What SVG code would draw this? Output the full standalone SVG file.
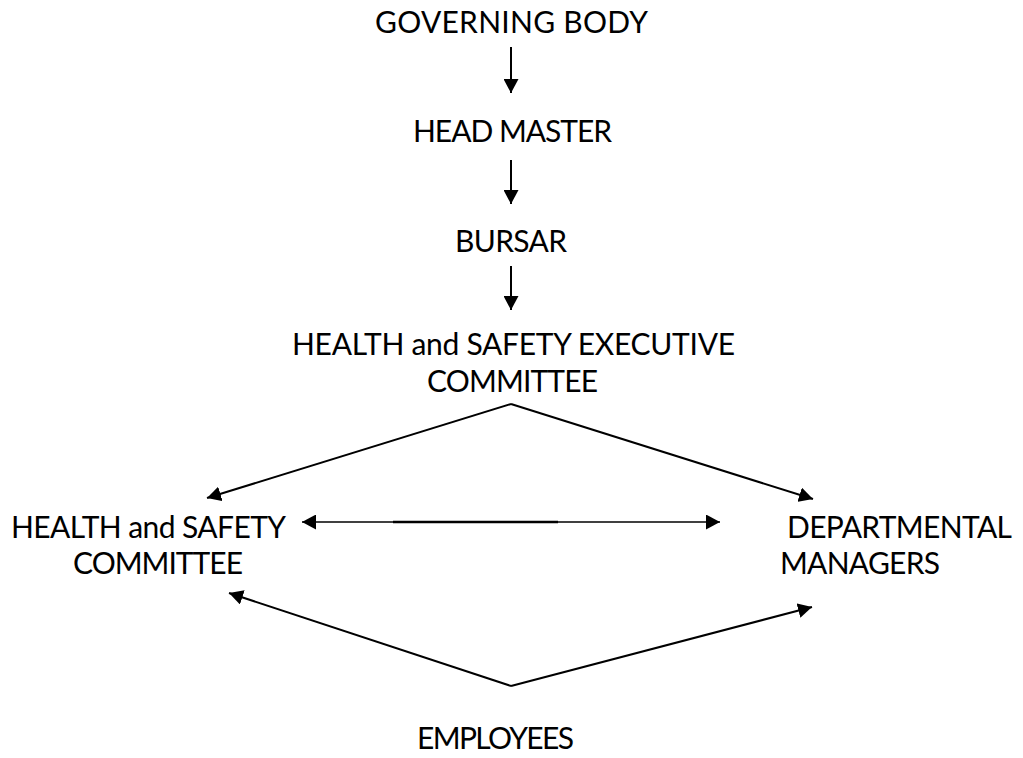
<svg xmlns="http://www.w3.org/2000/svg" width="1023" height="758" viewBox="0 0 1023 758">
  <style>
    .lbl { font-family: "Lato", "Open Sans", "Liberation Sans", sans-serif; font-size: 30px; fill: #000; }
    .conn { stroke: #000; stroke-width: 2; fill: none; marker-end: url(#head); }
  </style>
  <defs>
    <marker id="head" viewBox="0 0 14 15" refX="14" refY="7.5" markerWidth="14" markerHeight="15" markerUnits="userSpaceOnUse" orient="auto">
      <path d="M0,0 L14,7.5 L0,15 z" fill="#000"/>
    </marker>
  </defs>

  <rect width="1023" height="758" fill="#fff"/>

  <g id="governing-body">
    <text class="lbl" x="375" y="33" textLength="273">GOVERNING BODY</text>
  </g>
  <g id="head-master">
    <text class="lbl" x="413" y="142" textLength="199">HEAD MASTER</text>
  </g>
  <g id="bursar">
    <text class="lbl" x="455" y="252" textLength="112">BURSAR</text>
  </g>
  <g id="hs-executive">
    <text class="lbl" x="292" y="355" textLength="443">HEALTH and SAFETY EXECUTIVE</text>
    <text class="lbl" x="427" y="392" textLength="171">COMMITTEE</text>
  </g>
  <g id="hs-committee">
    <text class="lbl" x="11" y="538" textLength="275">HEALTH and SAFETY</text>
    <text class="lbl" x="73" y="574" textLength="170">COMMITTEE</text>
  </g>
  <g id="departmental-managers">
    <text class="lbl" x="787" y="538" textLength="225">DEPARTMENTAL</text>
    <text class="lbl" x="780" y="574" textLength="160">MANAGERS</text>
  </g>
  <g id="employees">
    <text class="lbl" x="417" y="749" textLength="157">EMPLOYEES</text>
  </g>

  <g id="connectors">
    <line class="conn" x1="511" y1="47" x2="511" y2="93"/>
    <line class="conn" x1="511" y1="160" x2="511" y2="204"/>
    <line class="conn" x1="511" y1="266" x2="511" y2="310"/>
    <line class="conn" x1="511" y1="404" x2="207" y2="498"/>
    <line class="conn" x1="511" y1="404" x2="813" y2="499"/>
    <line class="conn" x1="393" y1="522" x2="302" y2="522" style="stroke-width:1.5"/>
    <line class="conn" x1="558" y1="522" x2="720" y2="522" style="stroke-width:1.5"/>
    <line x1="393" y1="522" x2="558" y2="522" stroke="#000" stroke-width="2.5"/>
    <line class="conn" x1="511" y1="686" x2="229" y2="593"/>
    <line class="conn" x1="511" y1="686" x2="812" y2="607"/>
  </g>
</svg>
